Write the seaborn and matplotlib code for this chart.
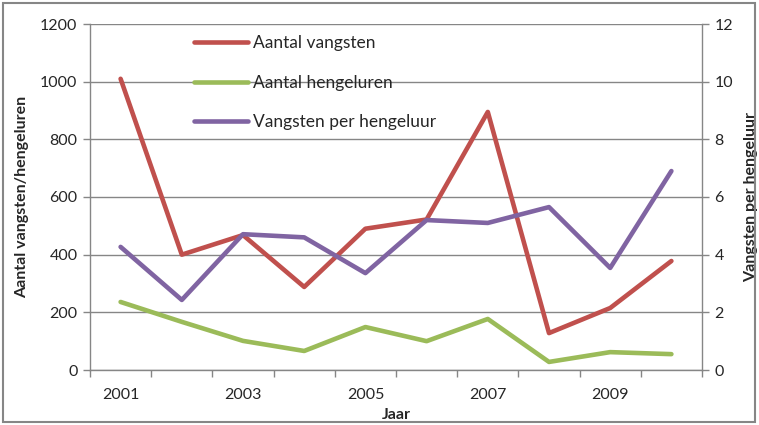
import matplotlib
matplotlib.use("Agg")
import matplotlib.pyplot as plt
import matplotlib.patches as mpatches
import seaborn as sns
import pandas as pd
import numpy as np

years = [2001, 2002, 2003, 2004, 2005, 2006, 2007, 2008, 2009, 2010]
aantal_vangsten = [1010, 400, 468, 288, 490, 522, 895, 128, 215, 378]
aantal_hengeluren = [236, 167, 101, 66, 149, 100, 177, 28, 62, 55]
vangsten_per_hengeluur = [4.27, 2.43, 4.71, 4.6, 3.36, 5.2, 5.1, 5.65, 3.54, 6.9]
tick_years = [2001, 2003, 2005, 2007, 2009]

df = pd.DataFrame({
    "pos": np.arange(len(years)),
    "Aantal vangsten": aantal_vangsten,
    "Aantal hengeluren": aantal_hengeluren,
    "Vangsten per hengeluur": vangsten_per_hengeluur,
})

sns.set_theme(style="white")
plt.rcParams['font.family'] = ['Lato', 'DejaVu Sans']

RED = "#C0504D"
GREEN = "#9BBB59"
PURPLE = "#8064A2"
GRAY = "#868686"

fig = plt.figure(figsize=(7.59, 4.25), dpi=100)
ax = fig.add_axes([90/759, 55/425, 612/759, 346/425])
ax2 = ax.twinx()

lw = 3.3
sns.lineplot(data=df, x="pos", y="Aantal vangsten", ax=ax, color=RED, lw=lw, label="Aantal vangsten", legend=False)
sns.lineplot(data=df, x="pos", y="Aantal hengeluren", ax=ax, color=GREEN, lw=lw, label="Aantal hengeluren", legend=False)
sns.lineplot(data=df, x="pos", y="Vangsten per hengeluur", ax=ax2, color=PURPLE, lw=lw, label="Vangsten per hengeluur", legend=False)

ax.set_xlim(-0.5, len(years) - 0.5)
ax.set_ylim(0, 1200)
ax2.set_ylim(0, 12)
ax.set_yticks(range(0, 1201, 200))
ax2.set_yticks(range(0, 13, 2))

# category boundaries as ticks, labels every other year
ax.set_xticks(np.arange(-0.5, len(years), 1.0))
ax.set_xticklabels([""] * (len(years) + 1))
ax.set_xticks([years.index(y) for y in tick_years], minor=True)
ax.set_xticklabels([str(y) for y in tick_years], minor=True)
ax.tick_params(axis="x", which="minor", length=0, pad=13)
ax.tick_params(axis="x", which="major", length=5, width=1, color=GRAY, direction="out", bottom=True)

ax.grid(axis="y", color=GRAY, lw=1)
ax.grid(axis="x", visible=False)
ax2.grid(False)

for a in (ax, ax2):
    for s in a.spines.values():
        s.set_visible(False)
ax.spines["left"].set_visible(True)
ax.spines["bottom"].set_visible(True)
ax2.spines["right"].set_visible(True)
for s in (ax.spines["left"], ax.spines["bottom"], ax2.spines["right"]):
    s.set_color(GRAY)
    s.set_linewidth(1)

ax.tick_params(axis="y", left=True, length=5, width=1, color=GRAY, direction="out", labelsize=11.5, pad=4)
ax2.tick_params(axis="y", right=True, length=5, width=1, color=GRAY, direction="out", labelsize=11.5, pad=4)
ax.tick_params(axis="x", which="both", labelsize=11.5)

ax.set_xlabel("Jaar", fontsize=11.5, fontweight="bold", labelpad=4)
ax.set_ylabel("Aantal vangsten/hengeluren", fontsize=11.5, fontweight="bold", labelpad=8)
ax2.set_ylabel("Vangsten per hengeluur", fontsize=11.5, fontweight="bold", labelpad=8)

h1, l1 = ax.get_legend_handles_labels()
h2, l2 = ax2.get_legend_handles_labels()
leg = ax2.legend(h1 + h2, l1 + l2, loc="upper left", bbox_to_anchor=(0.145, 1.012),
                 frameon=False, fontsize=12.5, handlelength=3.1, labelspacing=1.35,
                 handletextpad=0.3)

fig.patches.append(mpatches.Rectangle((3/759, 3/425), 752/759, 419/425, transform=fig.transFigure,
                                      fill=False, edgecolor=GRAY, lw=1.5))

fig.savefig("out.png", dpi=100)
